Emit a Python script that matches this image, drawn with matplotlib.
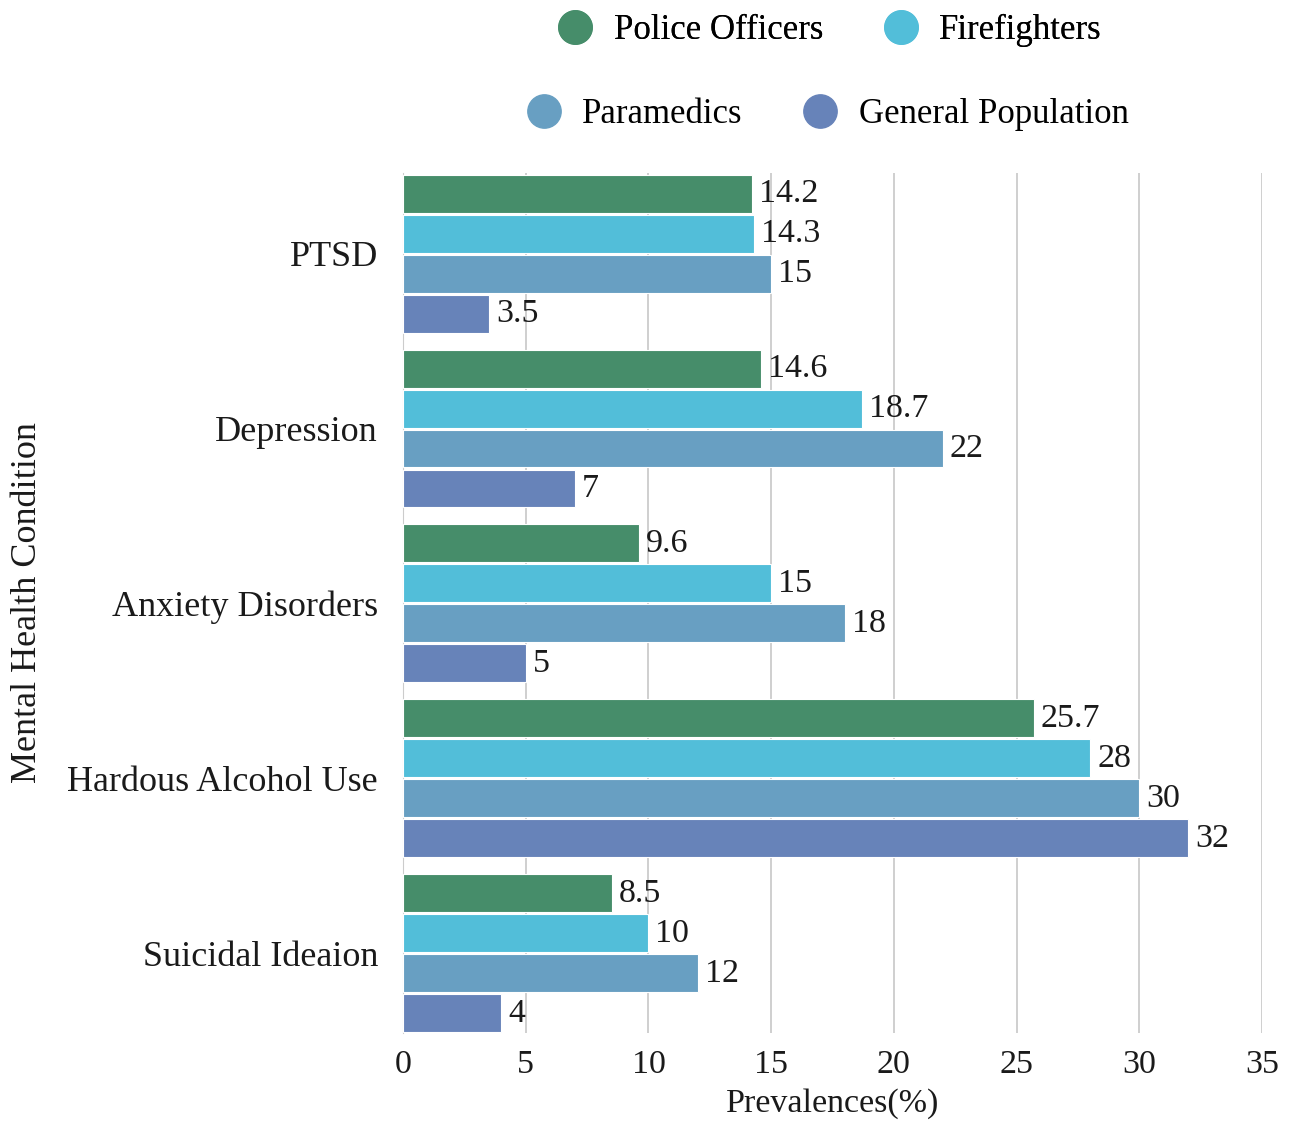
import matplotlib
matplotlib.use("Agg")
import matplotlib.pyplot as plt
from matplotlib.lines import Line2D
import numpy as np

plt.rcParams['font.family'] = ['Liberation Serif', 'DejaVu Serif']

# data
conditions = ["PTSD", "Depression", "Anxiety Disorders", "Hardous Alcohol Use", "Suicidal Ideaion"]
groups = ["Police Officers", "Firefighters", "Paramedics", "General Population"]
police = [14.2, 14.6, 9.6, 25.7, 8.5]
firefighters = [14.3, 18.7, 15, 28, 10]
paramedics = [15, 22, 18, 30, 12]
general = [3.5, 7, 5, 32, 4]
colors = ["#468d6a", "#52bed9", "#689fc2", "#6783b9"]

series = [police, firefighters, paramedics, general]

fig = plt.figure(figsize=(12.9, 11.24), dpi=100)
ax = fig.add_axes([0.3124, 0.081, 0.666, 0.765])

y = np.arange(len(conditions))
step = 0.2286
height = 0.217
for i, (vals, col) in enumerate(zip(series, colors)):
    pos = y + (i - 1.5) * step
    bars = ax.barh(pos, vals, height=height, color=col, edgecolor='white', linewidth=0.8, zorder=3)
    ax.bar_label(bars, labels=[f"{v:g}" for v in vals], padding=5, fontsize=24.5, color='#1a1a1a')

ax.set_xlim(0, 35)
ax.set_ylim(4.455, -0.46)
ax.set_xticks(range(0, 36, 5))
ax.set_yticks(y)
ax.set_yticklabels(conditions)
ax.tick_params(axis='x', length=0, labelsize=24.5, colors='#1a1a1a', pad=12)
ax.tick_params(axis='y', length=0, labelsize=26, colors='#1a1a1a', pad=18)
ax.grid(axis='x', color='#cccccc', linewidth=1.3, zorder=0)
for s in ['top', 'right', 'bottom']:
    ax.spines[s].set_visible(False)
ax.spines['left'].set_color('#cccccc')

ax.set_xlabel("Prevalences(%)", fontsize=24.5, color='#1a1a1a', labelpad=6)
fig.text(0.021, 0.4635, "Mental Health Condition", rotation=90, fontsize=26,
         color='#1a1a1a', ha='center', va='center')

# legend, two centred rows
handles = [Line2D([], [], marker='o', linestyle='none', markersize=24,
                  markerfacecolor=c, markeredgecolor=c) for c in colors]
kw = dict(loc='center', ncol=2, frameon=False, fontsize=25,
          handletextpad=0.35, columnspacing=1.5, handlelength=1.5)
leg1 = fig.legend(handles[:2], groups[:2], bbox_to_anchor=(0.64, 0.973), **kw)
fig.add_artist(leg1)
fig.legend(handles[2:], groups[2:], bbox_to_anchor=(0.638, 0.898), **kw)

plt.savefig("out.png", dpi=100)
